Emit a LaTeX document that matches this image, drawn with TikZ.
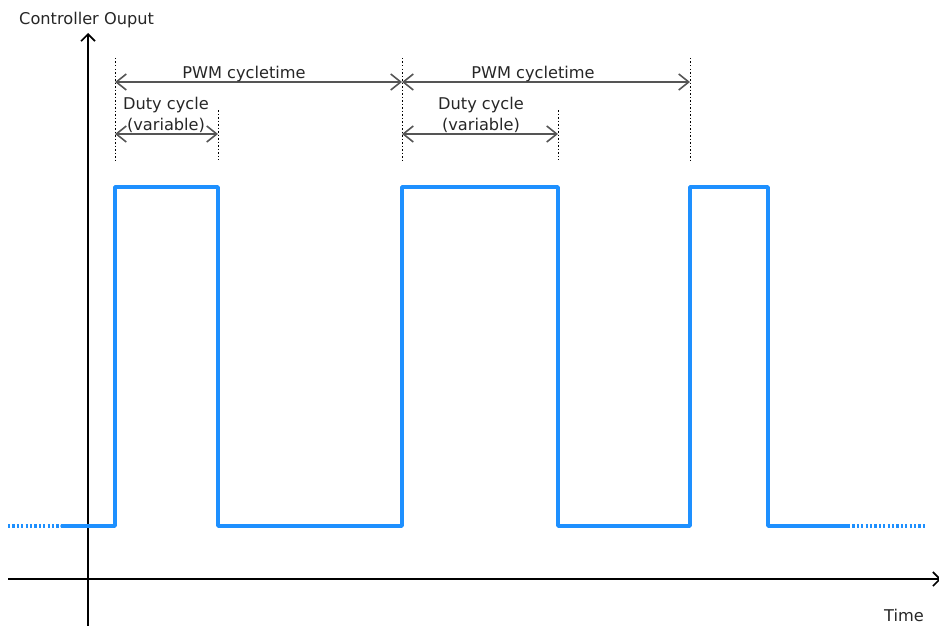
\documentclass[tikz,border=0pt]{standalone}
\usepackage{fontspec}
\setmainfont{DejaVu Sans}
\usetikzlibrary{arrows.meta}
\definecolor{sig}{RGB}{30,144,255}
\definecolor{dim}{RGB}{85,85,85}
\begin{document}
\begin{tikzpicture}[x=1pt,y=-1pt,
  axis/.style={black,line width=2pt,-{Straight Barb[length=7pt,width=14pt,line width=1.6pt]}},
  signal/.style={sig,line width=3.5pt,line join=round,line cap=round},
  sigdot/.style={sig,line width=3.5pt,dash pattern=on 2.2pt off 2.2pt},
  guide/.style={black,line width=1pt,dash pattern=on 1.5pt off 2pt},
  dimarrow/.style={dim,line width=1.6pt,{Straight Barb[length=10pt,width=16pt]}-{Straight Barb[length=10pt,width=16pt]}},
  lbl/.style={font=\fontsize{16.2}{18}\selectfont,inner sep=1pt,text=black!85}
]
\useasboundingbox (0,0) rectangle (939,626);
% axes
\coordinate (yb) at (88,626);
\coordinate (yt) at (88,33);
\coordinate (xl) at (8,579);
\coordinate (xr) at (941,579);
\draw[axis] (yb) -- (yt);
\draw[axis] (xl) -- (xr);
\node[lbl,anchor=base west] (ylab) at (18,25) {Controller Ouput};
\node[lbl,anchor=base east] (xlab) at (925,621) {Time};
% signal
\coordinate (d0) at (8,526);
\coordinate (s0) at (62,526);
\coordinate (a1) at (115,526);
\coordinate (a2) at (115,187);
\coordinate (a3) at (218,187);
\coordinate (a4) at (218,526);
\coordinate (b1) at (402,526);
\coordinate (b2) at (402,187);
\coordinate (b3) at (558,187);
\coordinate (b4) at (558,526);
\coordinate (c1) at (690,526);
\coordinate (c2) at (690,187);
\coordinate (c3) at (768,187);
\coordinate (c4) at (768,526);
\coordinate (e0) at (848,526);
\coordinate (d1) at (925,526);
\draw[sigdot] (d0) -- (s0);
\draw[signal] (s0) -- (a1) -- (a2) -- (a3) -- (a4) -- (b1) -- (b2) -- (b3) -- (b4) -- (c1) -- (c2) -- (c3) -- (c4) -- (e0);
\draw[sigdot] (e0) -- (d1);
% guides
\coordinate (g1t) at (115,58); \coordinate (g1b) at (115,160);
\coordinate (g2t) at (218,110); \coordinate (g2b) at (218,160);
\coordinate (g3t) at (402,58); \coordinate (g3b) at (402,160);
\coordinate (g4t) at (558,110); \coordinate (g4b) at (558,160);
\coordinate (g5t) at (690,58); \coordinate (g5b) at (690,160);
\foreach \g in {1,...,5} {\draw[guide] (g\g t) -- (g\g b);}
% dimension arrows
\coordinate (p1) at (115,82); \coordinate (p2) at (402,82); \coordinate (p3) at (690,82);
\coordinate (q1) at (115,134); \coordinate (q2) at (218,134);
\coordinate (r1) at (402,134); \coordinate (r2) at (558,134);
\draw[dimarrow] (p1) -- (p2);
\draw[dimarrow] (p2) -- (p3);
\draw[dimarrow] (q1) -- (q2);
\draw[dimarrow] (r1) -- (r2);
\node[lbl,anchor=base] (pl1) at (244,78) {PWM cycletime};
\node[lbl,anchor=base] (pl2) at (533,78) {PWM cycletime};
\node[lbl,anchor=base] (dl1) at (166,109) {Duty cycle};
\node[lbl,anchor=base] (dv1) at (166,130) {(variable)};
\node[lbl,anchor=base] (dl2) at (481,109) {Duty cycle};
\node[lbl,anchor=base] (dv2) at (481,130) {(variable)};
\end{tikzpicture}
\end{document}
